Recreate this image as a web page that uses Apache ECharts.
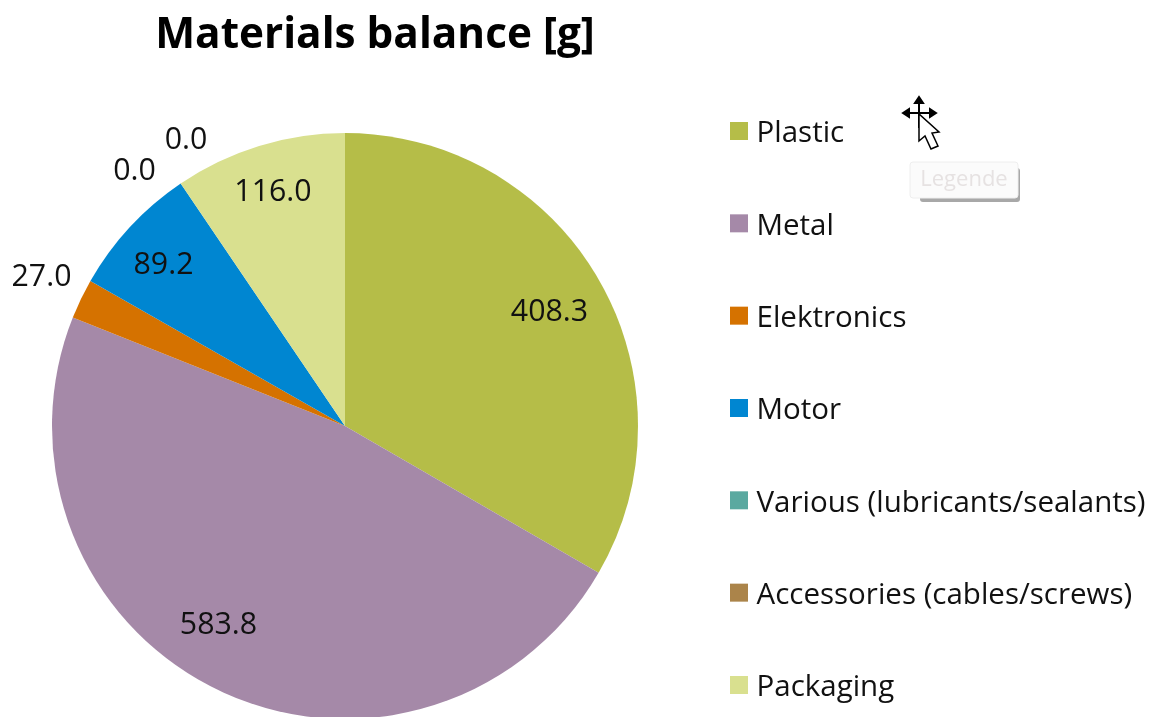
<!DOCTYPE html>
<html><head><meta charset="utf-8"><style>html,body{margin:0;padding:0;background:#fff}#c{width:1152px;height:717px}</style>
<script src="https://cdn.jsdelivr.net/npm/echarts@6/dist/echarts.min.js"></script></head>
<body><div id="c"></div>
<script>
const categories = ['Plastic','Metal','Elektronics','Motor','Various (lubricants/sealants)','Accessories (cables/screws)','Packaging'];
const values = [408.3,583.8,27.0,89.2,0.0,0.0,116.0];
const colors = ['#b5bd48','#a589a8','#d57200','#0086d1','#5aa9a0','#ab844a','#d9e08f'];
const titleText = 'Materials balance [g]';
const tooltipText = 'Legende';
const font = '"Open Sans","Noto Sans",sans-serif';
const labelCentres = [[549.5,312.5],[218.5,625.5],[41.5,277.5],[163.5,265.5],[134.5,171],[186,140.5],[273,192.5]];
const chart = echarts.init(document.getElementById('c'), null, {renderer:'canvas'});
const ink = {stroke:'#000',lineWidth:2,fill:'#000'};
chart.setOption({
  animation:false,
  backgroundColor:'#fff',
  title:{text:titleText,left:370,top:10,textAlign:'center',textStyle:{fontFamily:font,fontWeight:'bold',fontSize:42.3,color:'#000'}},
  legend:{
    orient:'vertical',left:730,top:113,padding:0,itemWidth:18,itemHeight:18,itemGap:56.33,icon:'rect',
    formatter:'{s|\u200b}{t|{name}}',
    textStyle:{padding:[0,0,0,3.5],rich:{
      s:{fontFamily:font,fontSize:10,lineHeight:36,height:36,width:0},
      t:{fontFamily:font,fontSize:29.5,lineHeight:30,height:30,color:'#111',verticalAlign:'bottom'}
    }},
    data:categories
  },
  series:[{
    type:'pie',center:[345,426],radius:[0,293],startAngle:90,clockwise:true,
    avoidLabelOverlap:false,stillShowZeroSum:true,
    itemStyle:{borderWidth:0},
    data:categories.map((n,i)=>({name:n,value:values[i],itemStyle:{color:colors[i]}})),
    label:{show:true,position:'inside',formatter:p=>p.value.toFixed(1),fontFamily:font,fontSize:30.3,color:'#111',align:'center',verticalAlign:'middle'},
    labelLine:{show:false},
    labelLayout:p=>({x:labelCentres[p.dataIndex][0],y:labelCentres[p.dataIndex][1],align:'center',verticalAlign:'middle',hideOverlap:false})
  }],
  graphic:{elements:[
    {type:'rect',z:10,shape:{x:920,y:168,width:100,height:34,r:3},style:{fill:'#a8a8a8'}},
    {type:'rect',z:11,shape:{x:910,y:162,width:108,height:36,r:3},style:{fill:'#fbfbfb',stroke:'#eeeeee',lineWidth:1}},
    {type:'text',z:12,style:{x:964,y:180,text:tooltipText,align:'center',verticalAlign:'middle',fontFamily:font,fontSize:22,fill:'#e6e2e2'}},
    {type:'line',z:12,shape:{x1:919,y1:100,x2:919,y2:128},style:ink},
    {type:'line',z:12,shape:{x1:905,y1:113,x2:934,y2:113},style:ink},
    {type:'polygon',z:12,shape:{points:[[919,97],[915,103],[923,103]]},style:ink},
    {type:'polygon',z:12,shape:{points:[[903,113],[909,109],[909,117]]},style:ink},
    {type:'polygon',z:12,shape:{points:[[936,113],[930,109],[930,117]]},style:ink},
    {type:'polygon',z:13,shape:{points:[[919,114],[919,141],[925,136],[931,149],[938,146],[932,133],[939,132]]},style:{fill:'#fff',stroke:'#000',lineWidth:1.5}}
  ]}
});
</script></body></html>
